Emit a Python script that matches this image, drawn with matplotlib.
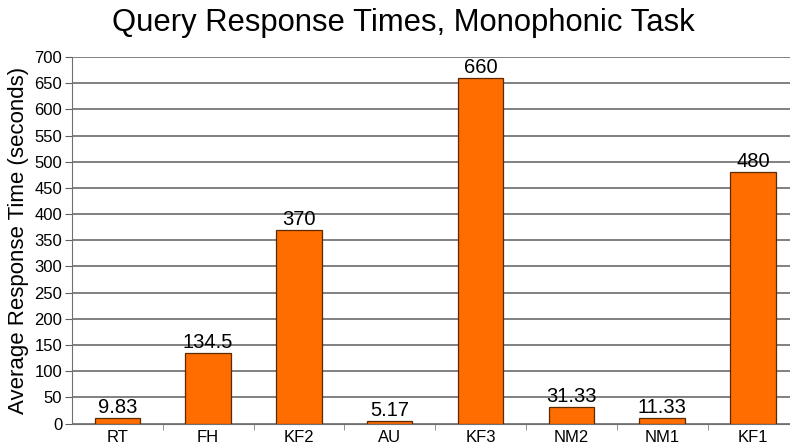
import numpy as np
import matplotlib.pyplot as plt

plt.rcParams['font.family'] = ['Liberation Sans', 'DejaVu Sans']

# Antwortzeiten je System (Sekunden)
systeme = ['RT', 'FH', 'KF2', 'AU', 'KF3', 'NM2', 'NM1', 'KF1']
zeiten = [9.83, 134.5, 370, 5.17, 660, 31.33, 11.33, 480]
beschriftung = ['9.83', '134.5', '370', '5.17', '660', '31.33', '11.33', '480']

fig = plt.figure(figsize=(7.9, 4.46), dpi=100)
ax = fig.add_axes([0.0911, 0.0504, 0.9195, 0.8217])

x = np.arange(len(systeme))
balken = ax.bar(x, zeiten, width=0.5, color='#ff6c00', edgecolor='#5a2a00', linewidth=0.9, zorder=3)
for b, t in zip(balken, beschriftung):
    ax.text(b.get_x() + b.get_width() / 2, b.get_height() + 2, t,
            ha='center', va='bottom', fontsize=14.5, zorder=4)

ax.set_xlim(-0.5, len(systeme) - 0.5)
ax.set_ylim(0, 700)
ax.set_yticks(np.arange(0, 701, 50))
ax.yaxis.grid(True, color='#5e5e5e', linewidth=1.1, zorder=0)

ax.set_xticks(x)
ax.set_xticklabels(systeme, fontsize=12)
ax.set_xticks(np.arange(0.5, len(systeme) - 0.5, 1), minor=True)
ax.tick_params(axis='x', which='major', length=0, pad=5)
ax.tick_params(axis='x', which='minor', length=4, color='#808080')
ax.tick_params(axis='y', length=5, labelsize=12, pad=2, color='#606060')

for s in ['top', 'right']:
    ax.spines[s].set_visible(False)
ax.spines['left'].set_color('#707070')
ax.spines['bottom'].set_color('#707070')

ax.set_ylabel('Average Response Time (seconds)', fontsize=16, labelpad=4)
fig.text(0.511, 0.948, 'Query Response Times, Monophonic Task', ha='center', va='center', fontsize=22.3)

fig.savefig('out.png', dpi=100)
